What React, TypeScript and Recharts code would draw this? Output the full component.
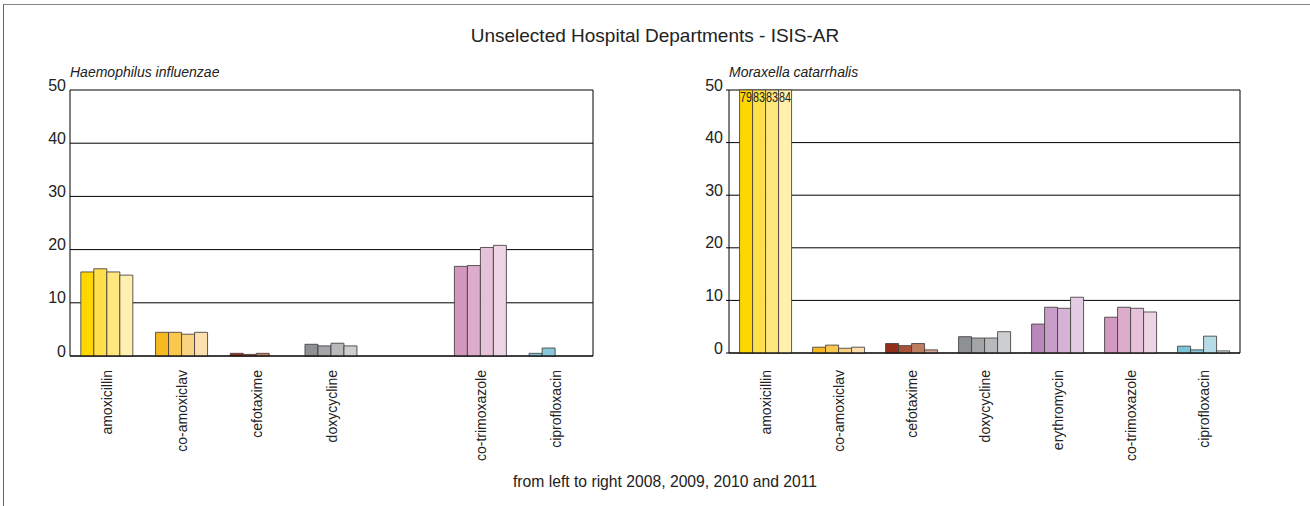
import React from "react";
import { BarChart, Bar, XAxis, YAxis, CartesianGrid, Cell, LabelList } from "recharts";

const FONT = "'Liberation Sans', Arial, sans-serif";
const Y_MAX = 50;
const Y_TICKS = [0, 10, 20, 30, 40, 50];

const YEARS = ["2008", "2009", "2010", "2011"];

// left panel has no erythromycin, the slot stays empty
const hiCategories = ["amoxicillin", "co-amoxiclav", "cefotaxime", "doxycycline", "", "co-trimoxazole", "ciprofloxacin"];
const mcCategories = ["amoxicillin", "co-amoxiclav", "cefotaxime", "doxycycline", "erythromycin", "co-trimoxazole", "ciprofloxacin"];
const colorKeys = ["amoxicillin", "co-amoxiclav", "cefotaxime", "doxycycline", "erythromycin", "co-trimoxazole", "ciprofloxacin"];

// % resistant, Haemophilus influenzae
const hi2008 = [15.8, 4.45, 0.5, 2.2, null, 16.85, 0.5];
const hi2009 = [16.4, 4.45, 0.3, 1.9, null, 17.0, 1.5];
const hi2010 = [15.8, 4.1, 0.5, 2.4, null, 20.4, null];
const hi2011 = [15.2, 4.45, null, 1.9, null, 20.8, null];

// % resistant, Moraxella catarrhalis
const mc2008 = [79, 1.1, 1.8, 3.1, 5.5, 6.8, 1.3];
const mc2009 = [83, 1.5, 1.4, 2.85, 8.7, 8.7, 0.6];
const mc2010 = [83, 0.9, 1.8, 2.85, 8.5, 8.5, 3.2];
const mc2011 = [84, 1.1, 0.6, 4.05, 10.6, 7.8, 0.4];

// one colour family per antibiotic, getting lighter by year
const PALETTE: Record<string, string[]> = {
  amoxicillin: ["#ffd700", "#ffdf4a", "#ffe780", "#fff0b0"],
  "co-amoxiclav": ["#f8b820", "#fac84e", "#f9d282", "#fce0ae"],
  cefotaxime: ["#93301c", "#a85238", "#bf7e62", "#d4a68e"],
  doxycycline: ["#8e9194", "#a3a6a8", "#b7b9bb", "#cdcecf"],
  erythromycin: ["#ba88bb", "#c89dca", "#d5b3d4", "#e3cde2"],
  "co-trimoxazole": ["#d398c0", "#ddabcb", "#e6c1da", "#edd4e5"],
  ciprofloxacin: ["#7dc4d7", "#88c8da", "#b4dbe6", "#d0eaf0"],
};

type Margin = { top: number; right: number; bottom: number; left: number };

function buildRows(categories: string[], series: (number | null)[][]) {
  return categories.map((name, i) => {
    const row: Record<string, string | number | null> = { name, colorKey: colorKeys[i] };
    YEARS.forEach((yr, j) => {
      const v = series[j][i];
      row[`v${yr}`] = v == null ? null : Math.min(v, Y_MAX);
      row[`raw${yr}`] = v;
    });
    return row;
  });
}

// bars cut off at the top of the scale get their real value written in
function OverflowLabel(p: any) {
  if (!(Number(p.value) > Y_MAX)) return null;
  const cx = Number(p.x) + Number(p.width) / 2;
  const cy = Number(p.y) + 7;
  return (
    <text
      transform={`translate(${cx} ${cy}) scale(0.72 1)`}
      textAnchor="middle"
      dominantBaseline="central"
      fontSize={15}
      fontFamily={FONT}
      fill="#222"
    >
      {p.value}
    </text>
  );
}

// plotLeft / plotBottom are where the axes should sit on the page
function Panel({
  categories,
  series,
  left,
  width,
  plotLeft,
  plotRight,
  plotBottom,
  yTickLine,
}: {
  categories: string[];
  series: (number | null)[][];
  left: number;
  width: number;
  plotLeft: number;
  plotRight: number;
  plotBottom: number;
  yTickLine: boolean;
}) {
  const rows = buildRows(categories, series);
  const margin: Margin = {
    top: 90,
    left: plotLeft - left - 1,
    right: left + width - plotRight,
    bottom: 506 - plotBottom - 1,
  };
  const labelGap = 370 - plotBottom;

  return (
    <div style={{ position: "absolute", left, top: 0 }}>
      <BarChart
        width={width}
        height={506}
        data={rows}
        margin={margin}
        barCategoryGap="14.5%"
        barGap={0}
      >
        <CartesianGrid
          stroke="#000"
          strokeWidth={1}
          verticalCoordinatesGenerator={(p: any) => [p.offset.left + p.offset.width]}
        />
        <XAxis
          dataKey="name"
          height={1}
          interval={0}
          axisLine={{ stroke: "#000" }}
          tickLine={false}
          tickSize={0}
          tickMargin={labelGap}
          tick={(p: any) => (
            <text
              x={p.x}
              y={p.y}
              transform={`rotate(-90 ${p.x} ${p.y})`}
              textAnchor="end"
              dominantBaseline="central"
              fontSize={14}
              fontFamily={FONT}
              fill="#222"
            >
              {p.payload.value}
            </text>
          )}
        />
        <YAxis
          width={1}
          domain={[0, Y_MAX]}
          ticks={Y_TICKS}
          axisLine={{ stroke: "#000" }}
          tickLine={yTickLine ? { stroke: "#000" } : false}
          tickSize={yTickLine ? 3 : 0}
          tickMargin={yTickLine ? 3 : 4}
          tick={(p: any) => (
            <text
              x={p.x}
              y={p.y - 5}
              textAnchor="end"
              dominantBaseline="central"
              fontSize={16}
              fontFamily={FONT}
              fill="#222"
            >
              {p.payload.value}
            </text>
          )}
        />
        {YEARS.map((yr, j) => (
          <Bar
            key={yr}
            dataKey={`v${yr}`}
            isAnimationActive={false}
            stroke="#443d3d"
            strokeOpacity={0.85}
            strokeWidth={1}
          >
            {rows.map((r, i) => (
              <Cell key={i} fill={PALETTE[r.colorKey as string][j]} />
            ))}
            <LabelList dataKey={`raw${yr}`} content={OverflowLabel} />
          </Bar>
        ))}
      </BarChart>
    </div>
  );
}

export default function App() {
  return (
    <div
      style={{
        position: "absolute",
        left: 0,
        top: 0,
        width: 1310,
        height: 506,
        overflow: "hidden",
        background: "#fff",
        fontFamily: FONT,
        color: "#222",
      }}
    >
      <div
        style={{
          position: "absolute",
          left: 3,
          top: 4,
          right: 0,
          bottom: 0,
          borderTop: "1px solid #888",
          borderLeft: "1px solid #666",
        }}
      />
      <div
        style={{
          position: "absolute",
          left: 0,
          width: 1310,
          top: 25,
          lineHeight: "22px",
          fontSize: 19,
          textAlign: "center",
        }}
      >
        Unselected Hospital Departments - ISIS-AR
      </div>

      <Panel
        categories={hiCategories}
        series={[hi2008, hi2009, hi2010, hi2011]}
        left={0}
        width={640}
        plotLeft={70}
        plotRight={593}
        plotBottom={356}
        yTickLine={false}
      />
      <Panel
        categories={mcCategories}
        series={[mc2008, mc2009, mc2010, mc2011]}
        left={640}
        width={670}
        plotLeft={729}
        plotRight={1240}
        plotBottom={353}
        yTickLine={true}
      />

      <div style={{ position: "absolute", left: 70, top: 64, fontSize: 14, fontStyle: "italic", lineHeight: "16px" }}>
        Haemophilus influenzae
      </div>
      <div style={{ position: "absolute", left: 729, top: 64, fontSize: 14, fontStyle: "italic", lineHeight: "16px" }}>
        Moraxella catarrhalis
      </div>

      <div
        style={{
          position: "absolute",
          left: 665,
          top: 473,
          transform: "translateX(-50%)",
          whiteSpace: "nowrap",
          fontSize: 15.7,
          lineHeight: "18px",
        }}
      >
        from left to right 2008, 2009, 2010 and 2011
      </div>
    </div>
  );
}
